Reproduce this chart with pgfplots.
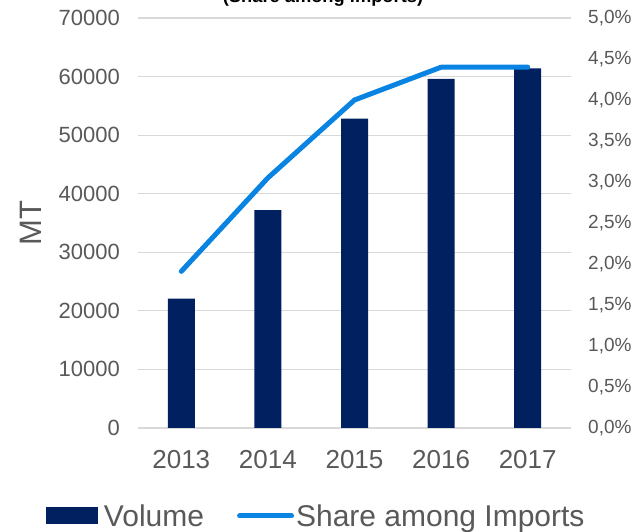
\documentclass[border=0pt]{standalone}
\usepackage{fontspec}
\setmainfont{Liberation Sans}
\usepackage{pgfplots}
\pgfplotsset{compat=1.18}
\definecolor{navy}{HTML}{002060}
\definecolor{lineblue}{HTML}{0A84E2}
\definecolor{txtgray}{HTML}{595959}
\definecolor{gridgray}{HTML}{D9D9D9}
\begin{document}
\begin{tikzpicture}[x=1pt,y=1pt]
\useasboundingbox (0,0) rectangle (637,532);
\node[anchor=base, font=\bfseries\fontsize{18.3}{20}\selectfont, inner sep=0pt] at (323,529.5) {(Share among imports)};
\begin{axis}[
  at={(138pt,104pt)}, anchor=south west,
  scale only axis, width=433pt, height=410pt,
  xmin=-0.5, xmax=4.5, ymin=0, ymax=70000,
  xtick={0,1,2,3,4}, xticklabels={2013,2014,2015,2016,2017},
  ytick={0,10000,...,70000},
  scaled y ticks=false,
  /pgf/number format/assume math mode=true,
  /pgf/number format/1000 sep={},
  axis line style={draw=none},
  major tick length=0pt,
  ymajorgrids, grid style={gridgray, line width=1.2pt},
  xticklabel style={font=\fontsize{26}{28}\selectfont, text=txtgray, inner sep=0pt, anchor=north, yshift=-22pt},
  yticklabel style={font=\fontsize{22}{24}\selectfont, text=txtgray, inner sep=0pt, anchor=east, xshift=-18pt},
  ylabel={MT},
  ylabel style={font=\fontsize{31}{33}\selectfont, text=txtgray, at={(axis description cs:0,0.5)}, anchor=center, yshift=107pt, inner sep=0pt},
]
\addplot[ybar, bar width=27pt, bar shift=0pt, fill=navy, draw=none] coordinates {
  (0,22100) (1,37200) (2,52800) (3,59600) (4,61400)
};
\end{axis}
\begin{axis}[
  at={(138pt,104pt)}, anchor=south west,
  scale only axis, width=433pt, height=410pt,
  xmin=-0.5, xmax=4.5, ymin=0, ymax=5,
  hide x axis,
  axis y line*=right,
  axis line style={draw=none},
  major tick length=0pt,
  ytick={0,0.5,...,5},
  /pgf/number format/assume math mode=true,
  yticklabel={\pgfmathprintnumber[fixed, fixed zerofill, precision=1, use comma]{\tick}\%},
  yticklabel style={font=\fontsize{19}{21}\selectfont, text=txtgray, inner sep=0pt, anchor=west, xshift=17pt},
  legend columns=2,
  legend style={at={(0,0)}, anchor=west, xshift=-92pt, yshift=-88pt, draw=none, fill=none, inner sep=0pt, outer sep=0pt,
    font=\fontsize{30}{32}\selectfont, text=txtgray, nodes={inner sep=0pt, text height=21.5pt, text depth=0pt},
    /tikz/every even column/.append style={column sep=33pt}},
]
\addlegendimage{legend image code/.code={\fill[navy, draw=none] (0pt,-8.5pt) rectangle (52pt,8.5pt); \path[draw=none, fill=none] (52pt,-1pt) rectangle (58pt,1pt);}}
\addlegendentry{Volume}
\addplot[lineblue, line width=5pt, line cap=round, line join=round, mark=none,
  legend image code/.code={\draw[lineblue, line width=5pt, line cap=round] (2.5pt,0pt) -- (54.5pt,0pt); \path[draw=none, fill=none] (57pt,-1pt) rectangle (59pt,1pt);}] coordinates {
  (0,1.91) (1,3.05) (2,4.0) (3,4.4) (4,4.4)
};
\addlegendentry{Share among Imports}
\end{axis}
\end{tikzpicture}
\end{document}
